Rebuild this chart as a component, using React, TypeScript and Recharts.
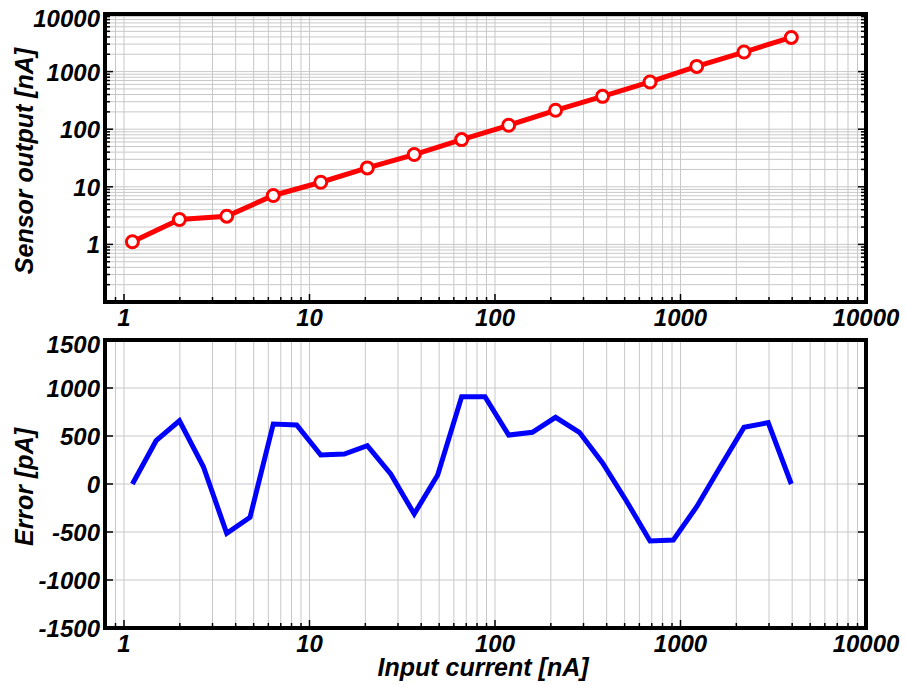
import React from 'react';
import { LineChart, Line, XAxis, YAxis, CartesianGrid, Label } from 'recharts';

// ---- Data ----
const inputCurrent = [1.11, 1.99, 3.58, 6.38, 11.5, 20.5, 36.7, 66.1, 118.5, 212, 380, 685, 1223, 2199, 3957];
const sensorOutput = [1.11, 2.71, 3.09, 7.07, 12.0, 21.3, 36.3, 66.0, 117, 213, 372, 661, 1230, 2186, 3918];

const errorCurrent = [1.11, 1.49, 1.99, 2.68, 3.58, 4.78, 6.38, 8.53, 11.5, 15.4, 20.5, 27.4, 36.7, 49.1, 66.1, 88.3, 118.5, 159, 212, 285, 380, 510, 685, 915, 1223, 1600, 2199, 2970, 3957];
const errorValues = [0, 451, 659, 180, -514, -347, 625, 615, 302, 312, 399, 104, -312, 94, 909, 909, 510, 538, 695, 538, 220, -174, -594, -583, -236, 146, 590, 639, 0];

// ---- Ticks ----
const decadesX = [1, 10, 100, 1000];
const decadesYTop = [0.1, 1, 10, 100, 1000];
const multipliers = [1, 2, 3, 4, 5, 6, 7, 8, 9];
const xTicks = [0.9, ...decadesX.flatMap((d) => multipliers.map((m) => m * d)), 10000];
const yTicksTop = [...decadesYTop.flatMap((d) => multipliers.map((m) => +(m * d).toPrecision(3))), 10000];
const yTicksErr = [-1500, -1000, -500, 0, 500, 1000, 1500];
const xDomain = [0.79, 10000];
const yDomainTop = [0.1, 10000];
const yDomainErr = [-1500, 1500];

const topData = inputCurrent.map((x, i) => ({ x, y: sensorOutput[i] }));
const errData = errorCurrent.map((x, i) => ({ x, y: errorValues[i] }));

const FONT = "'Liberation Sans', Arial, Helvetica, sans-serif";
const tickText = {
  fontFamily: FONT,
  fontSize: 24,
  fontWeight: 700,
  fontStyle: 'italic' as const,
  fill: '#000',
};
const titleText = { ...tickText, fontSize: 25 };

const isDecade = (v: number) => Math.abs(Math.log10(v) - Math.round(Math.log10(v))) < 1e-6 && v >= 1;

const BottomTick = (props: any) => {
  const { x, y, payload } = props;
  const v = payload.value;
  const major = isDecade(v);
  return (
    <g>
      <line x1={x} x2={x} y1={y} y2={y - (major ? 8 : 5)} stroke="#000" strokeWidth={1.5} />
      {major && (
        <text x={x} y={y + 24} textAnchor="middle" {...tickText}>
          {String(v)}
        </text>
      )}
    </g>
  );
};

const TopTick = (props: any) => {
  const { x, y, payload } = props;
  const major = isDecade(payload.value);
  return <line x1={x} x2={x} y1={y} y2={y + (major ? 8 : 5)} stroke="#000" strokeWidth={1.5} />;
};

const makeLeftTick = (logAxis: boolean, topValue: number) => (props: any) => {
  const { x, y, payload } = props;
  const v = payload.value;
  const major = logAxis ? isDecade(v) : true;
  const shift = v === topValue ? 4 : 0;
  return (
    <g>
      <line x1={x} x2={x + (major ? 8 : 5)} y1={y} y2={y} stroke="#000" strokeWidth={1.5} />
      {major && (
        <text x={x - 5} y={y + 9 + shift} textAnchor="end" {...tickText}>
          {String(v)}
        </text>
      )}
    </g>
  );
};

const makeRightTick = (logAxis: boolean) => (props: any) => {
  const { x, y, payload } = props;
  const major = logAxis ? isDecade(payload.value) : true;
  return <line x1={x} x2={x - (major ? 8 : 5)} y1={y} y2={y} stroke="#000" strokeWidth={1.5} />;
};

const frame = { stroke: '#000', strokeWidth: 4, strokeLinecap: 'square' as const };

const yTitle = (text: string) => (p: any) => {
  const vb = p && p.viewBox ? p.viewBox : { y: 14, height: 288 };
  const cx = 24;
  const cy = vb.y + vb.height / 2 + 3;
  return (
    <text
      x={cx}
      y={cy}
      transform={`rotate(-90 ${cx} ${cy})`}
      textAnchor="middle"
      dominantBaseline="central"
      {...titleText}
    >
      {text}
    </text>
  );
};

const xTitle = (text: string) => (p: any) => {
  return (
    <text x={483} y={356} textAnchor="middle" {...titleText}>
      {text}
    </text>
  );
};

export default function App() {
  return (
    <div style={{ position: 'absolute', left: 0, top: 0, width: 907, height: 684, background: '#fff' }}>
      <div style={{ position: 'absolute', left: 0, top: 0 }}>
        <LineChart width={907} height={330} data={topData} margin={{ top: 13, right: 40, bottom: 0, left: 25 }}>
          <CartesianGrid stroke="#c8c8c8" strokeWidth={1} />
          <XAxis
            dataKey="x"
            type="number"
            scale="log"
            domain={xDomain}
            allowDataOverflow
            ticks={xTicks}
            interval={0}
            height={28}
            tickSize={0}
            tickMargin={0}
            tickLine={false}
            axisLine={frame}
            tick={BottomTick}
          />
          <XAxis
            xAxisId="t"
            orientation="top"
            type="number"
            scale="log"
            domain={xDomain}
            allowDataOverflow
            ticks={xTicks}
            interval={0}
            height={1}
            tickSize={0}
            tickMargin={0}
            tickLine={false}
            axisLine={frame}
            tick={TopTick}
          />
          <YAxis
            type="number"
            scale="log"
            domain={yDomainTop}
            allowDataOverflow
            ticks={yTicksTop}
            interval={0}
            width={80}
            tickSize={0}
            tickMargin={0}
            tickLine={false}
            axisLine={frame}
            tick={makeLeftTick(true, 10000)}
          >
            <Label content={yTitle('Sensor output [nA]')} />
          </YAxis>
          <YAxis
            yAxisId="r"
            orientation="right"
            type="number"
            scale="log"
            domain={yDomainTop}
            allowDataOverflow
            ticks={yTicksTop}
            interval={0}
            width={1}
            tickSize={0}
            tickMargin={0}
            tickLine={false}
            axisLine={frame}
            tick={makeRightTick(true)}
          />
          <Line
            dataKey="y"
            stroke="#ff0000"
            strokeWidth={5}
            dot={{ r: 6, fill: '#ffffff', stroke: '#ff0000', strokeWidth: 3 }}
            isAnimationActive={false}
          />
        </LineChart>
      </div>
      <div style={{ position: 'absolute', left: 0, top: 320 }}>
        <LineChart width={907} height={364} data={errData} margin={{ top: 19, right: 40, bottom: 0, left: 25 }}>
          <CartesianGrid stroke="#c8c8c8" strokeWidth={1} />
          <XAxis
            dataKey="x"
            type="number"
            scale="log"
            domain={xDomain}
            allowDataOverflow
            ticks={xTicks}
            interval={0}
            height={56}
            tickSize={0}
            tickMargin={0}
            tickLine={false}
            axisLine={frame}
            tick={BottomTick}
          >
            <Label content={xTitle('Input current [nA]')} />
          </XAxis>
          <XAxis
            xAxisId="t"
            orientation="top"
            type="number"
            scale="log"
            domain={xDomain}
            allowDataOverflow
            ticks={xTicks}
            interval={0}
            height={1}
            tickSize={0}
            tickMargin={0}
            tickLine={false}
            axisLine={frame}
            tick={TopTick}
          />
          <YAxis
            type="number"
            domain={yDomainErr}
            allowDataOverflow
            ticks={yTicksErr}
            interval={0}
            width={80}
            tickSize={0}
            tickMargin={0}
            tickLine={false}
            axisLine={frame}
            tick={makeLeftTick(false, 1500)}
          >
            <Label content={yTitle('Error [pA]')} />
          </YAxis>
          <YAxis
            yAxisId="r"
            orientation="right"
            type="number"
            domain={yDomainErr}
            allowDataOverflow
            ticks={yTicksErr}
            interval={0}
            width={1}
            tickSize={0}
            tickMargin={0}
            tickLine={false}
            axisLine={frame}
            tick={makeRightTick(false)}
          />
          <Line
            dataKey="y"
            stroke="#0000ff"
            strokeWidth={5}
            dot={false}
            isAnimationActive={false}
          />
        </LineChart>
      </div>
    </div>
  );
}
